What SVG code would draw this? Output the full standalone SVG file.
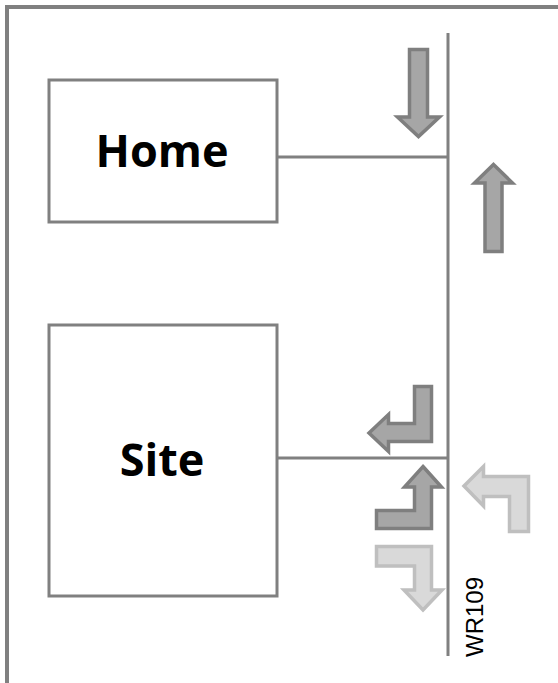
<svg xmlns="http://www.w3.org/2000/svg" width="558" height="683" viewBox="0 0 558 683">
<style>
.frame{fill:none;stroke:#808080;stroke-width:4}
.box{fill:#ffffff;stroke:#808080;stroke-width:3}
.lbl{font-family:"Open Sans","Liberation Sans",sans-serif;font-weight:700;font-size:45px;fill:#000;text-anchor:middle}
.wire{fill:none;stroke:#808080;stroke-width:3}
.dark{fill:#a6a6a6;stroke:#7f7f7f;stroke-width:3.5;stroke-linejoin:miter}
.light{fill:#d9d9d9;stroke:#bfbfbf;stroke-width:3.5;stroke-linejoin:miter}
.code{font-family:"Liberation Sans",Arial,sans-serif;font-size:24px;fill:#000}
</style>
<rect width="558" height="683" fill="#ffffff"/>
<path class="frame" d="M7,683 V7 H558"/>
<g id="home">
<rect class="box" x="49" y="80" width="228" height="142"/>
<text class="lbl" x="162" y="167">Home</text>
</g>
<g id="site">
<rect class="box" x="49" y="325" width="228" height="271"/>
<text class="lbl" x="162" y="476">Site</text>
</g>
<g id="connectors">
<line class="wire" x1="448" y1="33" x2="448" y2="656"/>
<line class="wire" x1="277" y1="157" x2="448" y2="157"/>
<line class="wire" x1="277" y1="458" x2="448" y2="458"/>
</g>
<g id="arrows">
<polygon class="dark" points="409.5,49.5 427.5,49.5 427.5,117 439.5,117 418.5,136.5 397.5,117 409.5,117"/>
<polygon class="dark" points="493.5,164.5 512.5,183 502,183 502,251.5 485,251.5 485,183 474.5,183"/>
<polygon class="dark" points="414.5,386.5 431.5,386.5 431.5,441.5 388.5,441.5 388.5,451.5 369,433 388.5,414.5 388.5,423.5 414.5,423.5"/>
<polygon class="dark" points="423,466.5 441.5,487 431.5,487 431.5,528.5 376.5,528.5 376.5,510.5 414.5,510.5 414.5,487 404.5,487"/>
<polygon class="light" points="464,486 483.5,466.5 483.5,476.5 528.5,476.5 528.5,531.5 509.5,531.5 509.5,496.5 483.5,496.5 483.5,506"/>
<polygon class="light" points="376.5,546.5 431.5,546.5 431.5,590 442,590 423,610 404,590 414.5,590 414.5,566 376.5,566"/>
</g>
<g id="wr109">
<text class="code" transform="translate(483,657) rotate(-90)">WR109</text>
</g>
</svg>
